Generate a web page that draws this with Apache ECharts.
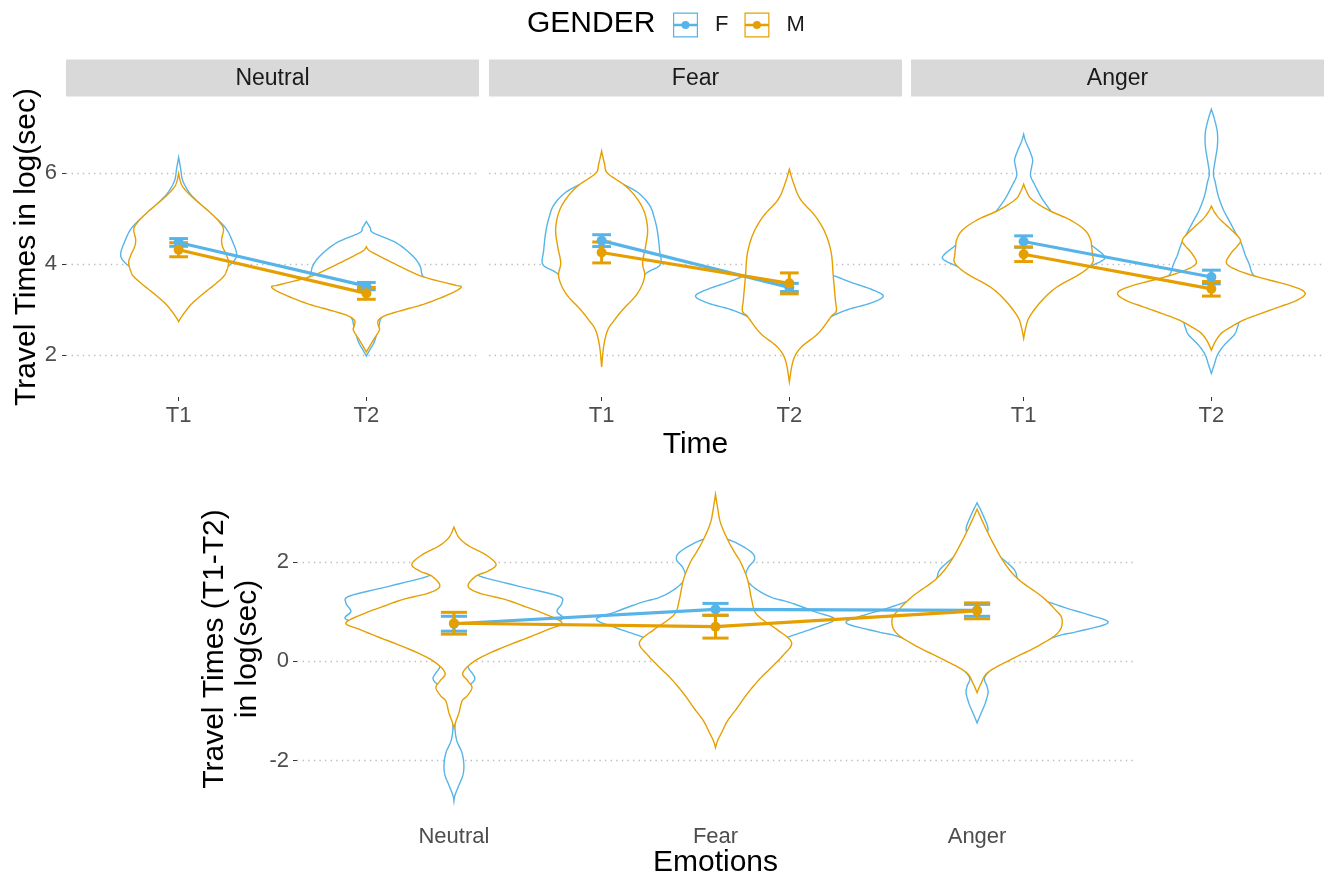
<!DOCTYPE html>
<html>
<head>
<meta charset="utf-8">
<script src="https://cdn.jsdelivr.net/npm/echarts@6/dist/echarts.min.js"></script>
<style>
  html, body { margin: 0; padding: 0; background: #fff; }
  #chart { width: 1325px; height: 879px; }
</style>
</head>
<body>
<div id="chart"></div>
<script>
// ---------- data ----------
const emotions = ['Neutral', 'Fear', 'Anger'];
const times = ['T1', 'T2'];
const genders = ['F', 'M'];
const yTicksTime = [2, 4, 6];
const yTicksDiff = [-2, 0, 2];

// mean and standard error of travel time (log sec), rows = emotion, cols = [T1, T2]
const meanF = [[4.48, 3.52], [4.52, 3.49], [4.50, 3.72]];
const seF   = [[0.085, 0.08], [0.13, 0.09], [0.125, 0.15]];
const meanM = [[4.32, 3.36], [4.26, 3.58], [4.22, 3.46]];
const seM   = [[0.155, 0.13], [0.23, 0.23], [0.16, 0.16]];

// mean and standard error of the T1-T2 difference, per emotion
const diffMeanF = [0.76, 1.05, 1.03];
const diffSeF   = [0.15, 0.12, 0.12];
const diffMeanM = [0.77, 0.70, 1.02];
const diffSeM   = [0.22, 0.23, 0.16];

// violin outlines: [value, half width of the density in x-axis units]
const violinNeutralT1F = [[6.35,0],[6.1,.011],[5.85,.021],[5.6,.053],[5.4,.096],[5.1,.176],[4.8,.25],[4.5,.287],[4.2,.309],[4.0,.277],[3.85,.223],[3.6,.16],[3.3,.08],[3.0,.027],[2.9,0]];
const violinNeutralT1M = [[6.0,0],[5.8,.011],[5.65,.032],[5.43,.085],[5.13,.17],[4.9,.223],[4.76,.239],[4.55,.229],[4.39,.234],[4.2,.255],[4.03,.266],[3.85,.255],[3.73,.239],[3.55,.191],[3.36,.133],[3.15,.074],[3.0,.043],[2.85,.016],[2.74,0]];
const violinNeutralT2F = [[4.94,0],[4.8,.021],[4.69,.037],[4.47,.16],[4.17,.25],[3.95,.287],[3.73,.303],[3.5,.372],[3.2,.239],[2.9,.096],[2.6,.064],[2.3,.043],[2.1,.016],[1.98,0]];
const violinNeutralT2M = [[4.39,0],[4.3,.016],[4.17,.074],[3.95,.181],[3.73,.298],[3.55,.463],[3.5,.505],[3.36,.452],[3.14,.319],[3.0,.202],[2.88,.106],[2.77,.064],[2.65,.064],[2.55,.069],[2.33,.037],[2.15,.011],[2.07,0]];
const violinFearT1F = [[6.2,0],[5.9,.053],[5.6,.186],[5.3,.255],[5.0,.282],[4.7,.298],[4.3,.309],[4.0,.314],[3.85,.255],[3.7,.202],[3.5,.149],[3.2,.08],[3.0,.043],[2.8,0]];
const violinFearT1M = [[6.49,0],[6.2,.016],[6.0,.032],[5.72,.128],[5.43,.191],[5.13,.229],[4.76,.245],[4.39,.234],[4.03,.218],[3.73,.229],[3.36,.191],[3.0,.112],[2.75,.064],[2.55,.032],[2.2,.011],[1.74,0]];
const violinFearT2F = [[3.95,0],[3.85,.133],[3.75,.234],[3.6,.33],[3.45,.436],[3.3,.5],[3.15,.436],[3.0,.309],[2.85,.223],[2.7,.16],[2.4,.08],[2.2,0]];
const violinFearT2M = [[6.09,0],[5.8,.021],[5.43,.059],[5.06,.138],[4.69,.191],[4.25,.223],[3.73,.234],[3.22,.245],[2.97,.25],[2.85,.223],[2.48,.154],[2.18,.064],[1.89,.021],[1.41,0]];
const violinAngerT1F = [[6.86,0],[6.7,.011],[6.5,.032],[6.3,.048],[6.15,.043],[5.95,.037],[5.75,.059],[5.5,.09],[5.3,.122],[5.1,.16],[4.9,.213],[4.7,.277],[4.5,.335],[4.35,.383],[4.2,.426],[4.1,.426],[3.95,.351],[3.75,.239],[3.5,.149],[3.2,.074],[2.9,.021],[2.7,0]];
const violinAngerT1M = [[5.76,0],[5.6,.016],[5.43,.043],[5.2,.128],[4.98,.245],[4.76,.324],[4.55,.356],[4.39,.362],[4.2,.367],[4.03,.367],[3.81,.309],[3.51,.181],[3.22,.101],[2.85,.032],[2.6,.011],[2.37,0]];
const violinAngerT2F = [[7.41,0],[7.2,.016],[6.9,.032],[6.6,.032],[6.3,.021],[6.0,.011],[5.8,.021],[5.5,.037],[5.2,.064],[4.95,.096],[4.7,.128],[4.45,.16],[4.2,.181],[4.0,.202],[3.8,.218],[3.6,.255],[3.3,.266],[3.0,.239],[2.8,.16],[2.6,.138],[2.45,.122],[2.2,.064],[2.0,.032],[1.8,.016],[1.6,0]];
const violinAngerT2M = [[5.28,0],[5.15,.016],[4.98,.048],[4.76,.106],[4.54,.154],[4.4,.138],[4.25,.106],[4.03,.08],[3.88,.133],[3.73,.239],[3.51,.436],[3.36,.5],[3.2,.452],[3.07,.367],[2.92,.266],[2.77,.17],[2.6,.096],[2.48,.053],[2.3,.021],[2.11,0]];

const violinDiffNeutralF = [[2.2,0],[2.0,.046],[1.85,.076],[1.72,.099],[1.52,.245],[1.32,.398],[1.18,.413],[1.01,.394],[0.85,.413],[0.7,.306],[0.5,.191],[0.3,.134],[0.1,.076],[-0.1,.054],[-0.35,.08],[-0.55,.046],[-0.85,.023],[-1.1,.008],[-1.35,.004],[-1.6,.011],[-1.85,.031],[-2.1,.038],[-2.3,.034],[-2.5,.019],[-2.7,.004],[-2.82,0]];
const violinDiffNeutralM = [[2.71,0],[2.5,.019],[2.33,.057],[2.15,.122],[1.96,.161],[1.82,.13],[1.72,.084],[1.52,.054],[1.38,.096],[1.25,.195],[1.1,.275],[0.98,.337],[0.78,.413],[0.65,.363],[0.51,.298],[0.24,.168],[0.01,.08],[-0.23,.034],[-0.4,.054],[-0.53,.069],[-0.7,.05],[-0.8,.031],[-1.04,.019],[-1.2,.008],[-1.34,0]];
const violinDiffFearF = [[2.55,0],[2.4,.076],[2.2,.138],[2.05,.149],[1.9,.126],[1.7,.115],[1.5,.145],[1.3,.21],[1.19,.283],[1.0,.382],[0.85,.455],[0.68,.382],[0.5,.283],[0.3,.191],[0.1,.099],[-0.2,.038],[-0.5,0]];
const violinDiffFearM = [[3.37,0],[3.1,.008],[2.8,.019],[2.46,.046],[2.2,.073],[2.0,.096],[1.66,.122],[1.25,.138],[0.98,.153],[0.8,.191],[0.65,.233],[0.38,.291],[0.11,.256],[-0.12,.214],[-0.36,.168],[-0.65,.122],[-0.96,.08],[-1.2,.046],[-1.44,.023],[-1.6,.008],[-1.74,0]];
const violinDiffAngerF = [[3.2,0],[2.95,.023],[2.67,.042],[2.45,.031],[2.2,.069],[1.86,.141],[1.6,.161],[1.3,.229],[1.09,.333],[0.95,.421],[0.78,.501],[0.6,.382],[0.51,.306],[0.3,.21],[0.0,.096],[-0.3,.031],[-0.5,.038],[-0.63,.042],[-0.85,.031],[-1.05,.015],[-1.24,0]];
const violinDiffAngerM = [[3.07,0],[2.8,.023],[2.46,.054],[2.0,.103],[1.66,.157],[1.32,.245],[1.05,.298],[0.85,.325],[0.58,.31],[0.31,.233],[0.04,.13],[-0.22,.042],[-0.45,.015],[-0.63,0]];

// lookup tables: [emotion][time] for each gender, and [emotion] for the difference panel
const timeViolinsF = [[violinNeutralT1F, violinNeutralT2F], [violinFearT1F, violinFearT2F], [violinAngerT1F, violinAngerT2F]];
const timeViolinsM = [[violinNeutralT1M, violinNeutralT2M], [violinFearT1M, violinFearT2M], [violinAngerT1M, violinAngerT2M]];
const diffViolinsF = [violinDiffNeutralF, violinDiffFearF, violinDiffAngerF];
const diffViolinsM = [violinDiffNeutralM, violinDiffFearM, violinDiffAngerM];

// ---------- styling ----------
const FONT = '"Liberation Sans", Arial, Helvetica, sans-serif';
const COLORS = { F: '#56B4E9', M: '#E69F00' };
const TICK_COLOR = '#4D4D4D';
const GRID_LINE = { color: '#BDBDBD', width: 1.3, type: [1.4, 4.2] };

const facetLefts = [66, 489, 911];
const facetWidth = 413;
const facetTop = 97, facetHeight = 300;
const diffGrid = { left: 297, top: 480, width: 837, height: 338 };

// ---------- helpers ----------
// smooth an outline by Catmull-Rom interpolation between the read points
function densify(profile, steps) {
  const out = [];
  const n = profile.length;
  for (let i = 0; i < n - 1; i++) {
    const p0 = profile[Math.max(i - 1, 0)], p1 = profile[i], p2 = profile[i + 1], p3 = profile[Math.min(i + 2, n - 1)];
    for (let k = 0; k < steps; k++) {
      const t = k / steps, t2 = t * t, t3 = t2 * t;
      const f = (a, b, c, d) => 0.5 * (2 * b + (-a + c) * t + (2 * a - 5 * b + 4 * c - d) * t2 + (-a + 3 * b - 3 * c + d) * t3);
      out.push([f(p0[0], p1[0], p2[0], p3[0]), Math.max(0, f(p0[1], p1[1], p2[1], p3[1]))]);
    }
  }
  out.push(profile[n - 1]);
  return out;
}

function violinSeries(name, axisIndex, profiles, color) {
  const dense = profiles.map(p => densify(p, 8));
  return {
    type: 'custom', name: name, xAxisIndex: axisIndex, yAxisIndex: axisIndex,
    silent: true, animation: false,
    encode: { x: 0, y: 1 },
    data: profiles.map((p, i) => [i + 1, i]),
    renderItem: function (params, api) {
      const x = api.value(0);
      const prof = dense[api.value(1)];
      const right = prof.map(([v, w]) => api.coord([x + w, v]));
      const left = prof.slice(1, -1).reverse().map(([v, w]) => api.coord([x - w, v]));
      return {
        type: 'polygon',
        shape: { points: right.concat(left) },
        style: { fill: '#ffffff', stroke: color, lineWidth: 1.4 }
      };
    }
  };
}

function errorBarSeries(name, axisIndex, means, errs, color) {
  return {
    type: 'custom', name: name, xAxisIndex: axisIndex, yAxisIndex: axisIndex,
    silent: true, animation: false,
    encode: { x: 0, y: 1 },
    data: means.map((m, i) => [i + 1, m, errs[i]]),
    renderItem: function (params, api) {
      const x = api.value(0), m = api.value(1), e = api.value(2);
      const top = api.coord([x, m + e]);
      const bot = api.coord([x, m - e]);
      const l = api.coord([x - 0.05, m])[0];
      const r = api.coord([x + 0.05, m])[0];
      const st = { stroke: color, lineWidth: 3 };
      return {
        type: 'group',
        children: [
          { type: 'line', shape: { x1: top[0], y1: top[1], x2: bot[0], y2: bot[1] }, style: st },
          { type: 'line', shape: { x1: l, y1: top[1], x2: r, y2: top[1] }, style: st },
          { type: 'line', shape: { x1: l, y1: bot[1], x2: r, y2: bot[1] }, style: st }
        ]
      };
    }
  };
}

function meanLineSeries(name, axisIndex, means, color) {
  return {
    type: 'line', name: name, xAxisIndex: axisIndex, yAxisIndex: axisIndex,
    silent: true, animation: false,
    data: means.map((m, i) => [i + 1, m]),
    symbol: 'circle', symbolSize: 10, showSymbol: true,
    lineStyle: { color: color, width: 3.2 },
    itemStyle: { color: color, borderWidth: 0 },
    z: 4
  };
}

// ---------- grids & axes ----------
const grids = [], xAxes = [], yAxes = [], series = [], graphics = [];

emotions.forEach((emo, i) => {
  grids.push({ left: facetLefts[i], top: facetTop, width: facetWidth, height: facetHeight, containLabel: false });
  xAxes.push({
    gridIndex: i, type: 'value', min: 0.4, max: 2.6,
    axisLine: { show: false }, splitLine: { show: false },
    axisTick: { show: true, customValues: [1, 2], length: 4, lineStyle: { color: '#333333', width: 1 } },
    axisLabel: { customValues: [1, 2], formatter: v => times[Math.round(v) - 1], color: TICK_COLOR, fontSize: 22, fontFamily: FONT, margin: 8 },
    name: i === 1 ? 'Time' : '', nameLocation: 'middle', nameGap: 33, nameMoveOverlap: false,
    nameTextStyle: { fontSize: 30, color: '#000000', fontFamily: FONT }
  });
  yAxes.push({
    gridIndex: i, type: 'value', min: 1.08, max: 7.68,
    axisLine: { show: false },
    axisTick: { show: i === 0, customValues: yTicksTime, length: 4, lineStyle: { color: '#333333', width: 1 } },
    axisLabel: { show: i === 0, customValues: yTicksTime, color: TICK_COLOR, fontSize: 22, fontFamily: FONT, margin: 9 },
    splitLine: { show: true, lineStyle: GRID_LINE },
    name: i === 0 ? 'Travel Times in log(sec)' : '', nameLocation: 'middle', nameGap: 24, nameMoveOverlap: false,
    nameTextStyle: { fontSize: 30, color: '#000000', fontFamily: FONT }
  });
  // facet strip
  graphics.push({
    type: 'rect', x: facetLefts[i], y: 59.5, shape: { width: facetWidth, height: 37 },
    style: { fill: '#D9D9D9' }, silent: true
  });
  graphics.push({
    type: 'text', x: facetLefts[i] + facetWidth / 2, y: 79,
    style: { text: emo, fontSize: 23, fontFamily: FONT, fill: '#1A1A1A', align: 'center', verticalAlign: 'middle' },
    silent: true
  });
});

grids.push(Object.assign({ containLabel: false }, diffGrid));
xAxes.push({
  gridIndex: 3, type: 'value', min: 0.4, max: 3.6,
  axisLine: { show: false }, splitLine: { show: false },
  axisTick: { show: true, customValues: [1, 2, 3], length: 4, lineStyle: { color: '#333333', width: 1 } },
  axisLabel: { customValues: [1, 2, 3], formatter: v => emotions[Math.round(v) - 1], color: TICK_COLOR, fontSize: 22, fontFamily: FONT, margin: 8 },
  name: 'Emotions', nameLocation: 'middle', nameGap: 30, nameMoveOverlap: false,
  nameTextStyle: { fontSize: 30, color: '#000000', fontFamily: FONT }
});
yAxes.push({
  gridIndex: 3, type: 'value', min: -3.16, max: 3.66,
  axisLine: { show: false },
  axisTick: { show: true, customValues: yTicksDiff, length: 4, lineStyle: { color: '#333333', width: 1 } },
  axisLabel: { customValues: yTicksDiff, color: TICK_COLOR, fontSize: 22, fontFamily: FONT, margin: 8 },
  splitLine: { show: true, lineStyle: GRID_LINE },
  name: 'Travel Times (T1-T2)\nin log(sec)', nameLocation: 'middle', nameGap: 33, nameMoveOverlap: false,
  nameTextStyle: { fontSize: 30, lineHeight: 33, color: '#000000', fontFamily: FONT }
});

// ---------- series: violins first, then summaries on top ----------
emotions.forEach((emo, i) => {
  series.push(violinSeries('F', i, timeViolinsF[i], COLORS.F));
  series.push(violinSeries('M', i, timeViolinsM[i], COLORS.M));
});
series.push(violinSeries('F', 3, diffViolinsF, COLORS.F));
series.push(violinSeries('M', 3, diffViolinsM, COLORS.M));

emotions.forEach((emo, i) => {
  series.push(errorBarSeries('F', i, meanF[i], seF[i], COLORS.F));
  series.push(errorBarSeries('M', i, meanM[i], seM[i], COLORS.M));
  series.push(meanLineSeries('F', i, meanF[i], COLORS.F));
  series.push(meanLineSeries('M', i, meanM[i], COLORS.M));
});
series.push(errorBarSeries('F', 3, diffMeanF, diffSeF, COLORS.F));
series.push(errorBarSeries('M', 3, diffMeanM, diffSeM, COLORS.M));
series.push(meanLineSeries('F', 3, diffMeanF, COLORS.F));
series.push(meanLineSeries('M', 3, diffMeanM, COLORS.M));

// legend key: outlined box with a horizontal bar and a dot
const KEY_ICON = 'path://M0,0H25V25H0Z M1.2,1.2V23.8H23.8V1.2Z M1.2,11.3H23.8V13.7H1.2Z M8.5,12.5a4,4 0 1,1 8,0a4,4 0 1,1 -8,0Z';

const option = {
  animation: false,
  backgroundColor: '#ffffff',
  title: {
    text: 'GENDER', left: 527, top: 9, padding: 0,
    textStyle: { fontSize: 30, fontWeight: 'normal', color: '#000000', fontFamily: FONT }
  },
  legend: {
    left: 673, top: 12.5, padding: 0, orient: 'horizontal',
    itemWidth: 25, itemHeight: 25, itemGap: 16, selectedMode: false,
    data: genders.map(g => ({ name: g, icon: KEY_ICON, itemStyle: { color: COLORS[g], borderWidth: 0 } })),
    textStyle: { fontSize: 22, color: '#1A1A1A', fontFamily: FONT, padding: [0, 0, 0, 12] }
  },
  grid: grids,
  xAxis: xAxes,
  yAxis: yAxes,
  series: series,
  graphic: { elements: graphics }
};

const chart = echarts.init(document.getElementById('chart'), null, { renderer: 'canvas' });
chart.setOption(option);
</script>
</body>
</html>
